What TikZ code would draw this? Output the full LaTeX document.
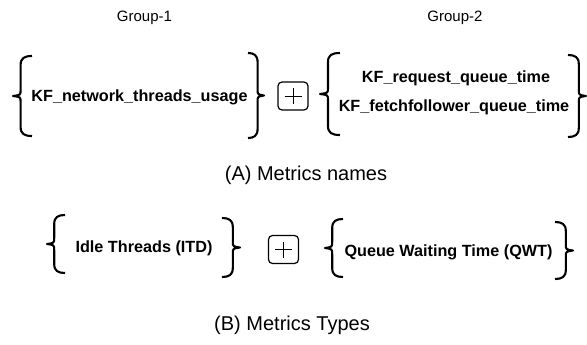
\documentclass[tikz,border=0pt]{standalone}
\usepackage{fontspec}
\setmainfont{Liberation Sans}
\begin{document}
\begin{tikzpicture}[x=1pt,y=-1pt,
  brc/.style={line width=2.1pt,line cap=butt,line join=round},
  grp/.style={font=\fontsize{15}{18}\selectfont},
  lbl/.style={font=\fontsize{16.2}{18}\selectfont\bfseries},
  captxt/.style={font=\fontsize{20}{23}\selectfont},
  plusbox/.style={draw,line width=1.2pt,rounded corners=4pt,minimum width=30pt,minimum height=28pt,inner sep=0pt}]
\useasboundingbox (0,0) rectangle (587,345);
\newcommand\BraceShape[4]{%
  \pgfmathsetmacro\bv{#1+0.4*(#2-#1)}%
  \pgfmathsetmacro\bm{(#3+#4)/2}%
  \pgfmathsetmacro\bs{(#2>#1)?1:-1}%
  \draw[brc] (#2,#3) .. controls (\bv+4*\bs,#3) and (\bv,#3+2) .. (\bv,#3+9) -- (\bv,\bm-6)
    .. controls (\bv,\bm-1) .. (#1,\bm) .. controls (\bv,\bm+1) .. (\bv,\bm+6) -- (\bv,#4-9)
    .. controls (\bv,#4-2) and (\bv+4*\bs,#4) .. (#2,#4);}
% group labels
\node[grp] (g1) at (144.5,18) {Group-1};
\node[grp] (g2) at (455,18) {Group-2};
% (A) metric names
\node[lbl] (n1) at (139.5,97) {KF\_network\_threads\_usage};
\node[lbl] (n2a) at (456,78) {KF\_request\_queue\_time};
\node[lbl] (n2b) at (454,107) {KF\_fetchfollower\_queue\_time};
\BraceShape{13}{32}{56}{136}
\BraceShape{264}{248}{53}{138}
\BraceShape{320}{340}{53}{135}
\BraceShape{586}{568}{55}{137}
\node[plusbox] (p1) at (293,96) {};
\draw[line width=0.9pt] ([xshift=-8.5pt]p1.center) -- ([xshift=8.5pt]p1.center)
  ([yshift=-8pt]p1.center) -- ([yshift=8pt]p1.center);
\node[captxt] (capA) at (306,175) {(A) Metrics names};
% (B) metric types
\node[lbl] (t3) at (144,248) {Idle Threads (ITD)};
\node[lbl] (t4) at (448.5,252) {Queue Waiting Time (QWT)};
\BraceShape{47}{65}{215}{273}
\BraceShape{240}{222}{218}{277}
\BraceShape{325}{343}{219}{277}
\BraceShape{573}{555}{222}{279}
\node[plusbox] (p2) at (283.5,249.5) {};
\draw[line width=0.9pt] ([xshift=-8.5pt]p2.center) -- ([xshift=8.5pt]p2.center)
  ([yshift=-8pt]p2.center) -- ([yshift=8pt]p2.center);
\node[captxt] (capB) at (292,325) {(B) Metrics Types};
\end{tikzpicture}
\end{document}
